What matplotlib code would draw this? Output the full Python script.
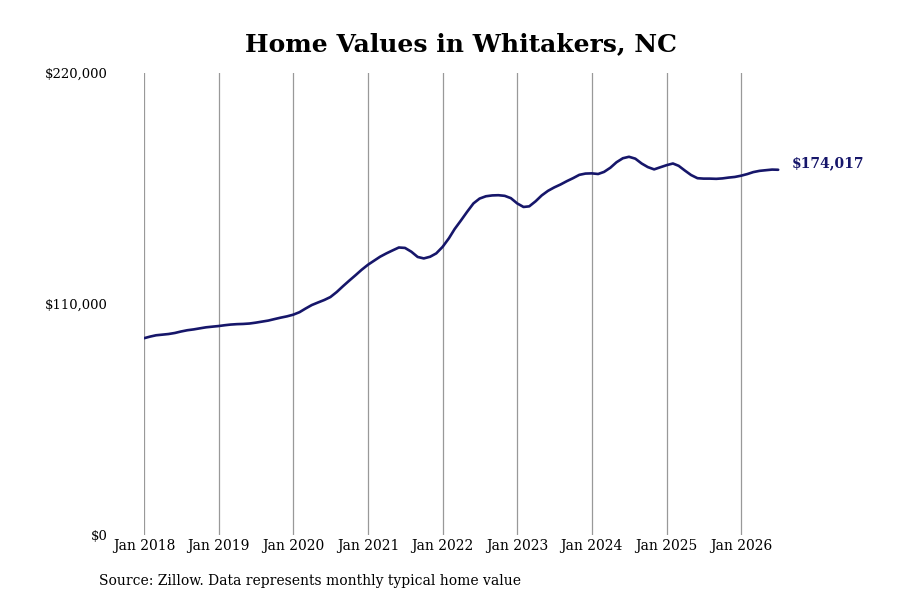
import matplotlib
matplotlib.use("Agg")
import matplotlib.pyplot as plt
import pandas as pd

# monthly typical home value, Jan 2018 .. Jul 2026
start_month = "2018-01-01"
home_values = [
    93800, 94600, 95200, 95500, 95800, 96300, 97000, 97600, 98000, 98500, 99000, 99300,
    99600, 100000, 100300, 100500, 100600, 100800, 101200, 101700, 102200, 102900, 103600, 104200,
    105000, 106200, 107900, 109600, 110800, 112000, 113400, 115800, 118600, 121200, 123800, 126400,
    128800, 130800, 132600, 134200, 135600, 137000, 136800, 135000, 132500, 131800, 132600, 134200,
    137300, 141400, 145800, 149900, 154000, 158000, 160300, 161400, 161800, 161900, 161600, 160500,
    158000, 156300, 156600, 159000, 161800, 164000, 165600, 167000, 168600, 170000, 171600, 172200,
    172300, 172000, 173000, 175000, 177600, 179500, 180200, 179300, 177000, 175300, 174200, 175200,
    176200, 177000, 175900, 173600, 171500, 170000, 169800, 169800, 169700, 169900, 170300, 170600,
    171200, 172000, 172900, 173500, 173800, 174100, 174017,
]
y_ticks = [0, 110000, 220000]
y_labels = ["$0", "$110,000", "$220,000"]
tick_years = list(range(2018, 2027))

dates = pd.date_range(start_month, periods=len(home_values), freq="MS")

plt.rcParams["font.family"] = "DejaVu Serif"
fig = plt.figure(figsize=(9, 6), dpi=100)
ax = fig.add_axes([0.16, 0.108, 0.716, 0.77])

ax.plot(dates, home_values, color="#16166a", lw=1.9, solid_capstyle="round")

ax.set_ylim(0, 220000)
ax.set_yticks(y_ticks)
ax.set_yticklabels(y_labels, fontsize=9.5)
ax.set_xlim(dates[0], pd.Timestamp("2026-08-20"))
xt = [pd.Timestamp(f"{y}-01-01") for y in tick_years]
ax.set_xticks(xt)
ax.set_xticklabels([f"Jan {y}" for y in tick_years], fontsize=10)
ax.tick_params(axis="y", length=0, pad=26)
ax.tick_params(axis="x", length=0, pad=3)
ax.grid(axis="x", color="#999999", lw=0.9)
ax.set_axisbelow(True)
for s in ax.spines.values():
    s.set_visible(False)

ax.annotate(f"${home_values[-1]:,}", (dates[-1], home_values[-1]),
            xytext=(10, 5), textcoords="offset points", va="center",
            fontsize=10, fontweight="bold", color="#16166a")

fig.text(0.512, 0.927, "Home Values in Whitakers, NC", ha="center", va="center",
         fontsize=18, fontweight="bold")
fig.text(0.11, 0.031, "Source: Zillow. Data represents monthly typical home value",
         ha="left", va="center", fontsize=10)

fig.savefig("out.png", dpi=100)
